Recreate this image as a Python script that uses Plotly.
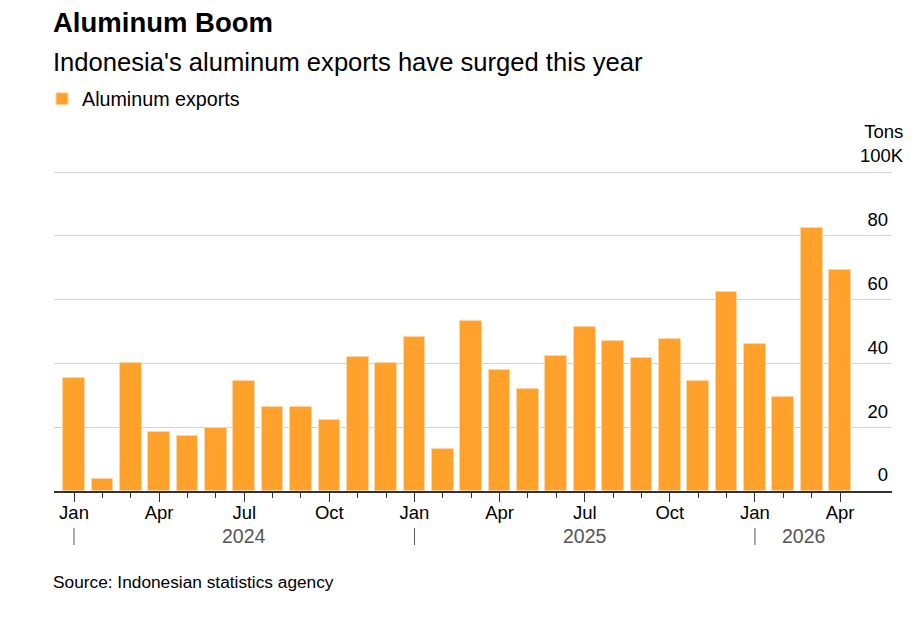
import plotly.graph_objects as go

months = ["Jan 2024", "Feb 2024", "Mar 2024", "Apr 2024", "May 2024", "Jun 2024",
          "Jul 2024", "Aug 2024", "Sep 2024", "Oct 2024", "Nov 2024", "Dec 2024",
          "Jan 2025", "Feb 2025", "Mar 2025", "Apr 2025", "May 2025", "Jun 2025",
          "Jul 2025", "Aug 2025", "Sep 2025", "Oct 2025", "Nov 2025", "Dec 2025",
          "Jan 2026", "Feb 2026", "Mar 2026", "Apr 2026"]
exports_k_tons = [35.3, 3.7, 40.0, 18.5, 17.1, 19.8, 34.4, 26.4, 26.3, 22.3, 41.9, 40.1,
                  48.4, 13.1, 53.4, 37.9, 31.9, 42.5, 51.3, 47.2, 41.7, 47.6, 34.5, 62.3,
                  46.1, 29.4, 82.5, 69.4]
y_ticks = [0, 20, 40, 60, 80, 100]
y_tick_text = ["0", "20", "40", "60", "80", ""]
years = ["2024", "2025", "2026"]
year_label_pos = [6, 18, 25.7]
year_start_idx = [0, 12, 24]

idx = list(range(len(months)))
quarter_idx = [i for i in idx if months[i].split()[0] in ("Jan", "Apr", "Jul", "Oct")]
quarter_text = [months[i].split()[0] for i in quarter_idx]

W, H = 921, 620
ML, MR, MT, MB = 54, 29, 169, 129
PH = H - MT - MB
PW = W - ML - MR


def py(ypx):
    return (H - MB - ypx) / PH


def px(xpx):
    return (xpx - ML) / PW


FONT = "Liberation Sans, Arial, sans-serif"
ORANGE = "#FFA12B"

fig = go.Figure()
fig.add_trace(go.Bar(
    x=idx, y=exports_k_tons, name="Aluminum exports",
    marker=dict(color=ORANGE, line=dict(color="#FFD6A3", width=1)),
    width=0.765, showlegend=True,
))

fig.update_layout(
    width=W, height=H,
    margin=dict(l=ML, r=MR, t=MT, b=MB, pad=0),
    paper_bgcolor="white", plot_bgcolor="white",
    font=dict(family=FONT, size=18, color="#000"),
    showlegend=True,
    legend=dict(x=px(42), y=py(99), xanchor="left", yanchor="middle",
                orientation="h", font=dict(size=19.7, color="#000"),
                bgcolor="rgba(0,0,0,0)", borderwidth=0),
    bargap=0,
)

fig.update_xaxes(
    range=[-0.705, 28.83],
    tickmode="array", tickvals=quarter_idx, ticktext=quarter_text,
    ticks="outside", ticklen=9, tickwidth=1, tickcolor="#333",
    showline=True, linecolor="#333", linewidth=1.5,
    showgrid=False, zeroline=False, ticklabelstandoff=-5,
    tickfont=dict(size=18.5, color="#000"),
    minor=dict(tickmode="array", tickvals=idx, ticks="outside", ticklen=5,
               tickwidth=1, tickcolor="#333", showgrid=False),
)

fig.update_yaxes(
    range=[0, 101], side="right",
    tickmode="array", tickvals=y_ticks, ticktext=y_tick_text,
    ticklabelposition="inside", ticklabelshift=-16, ticklabelstandoff=1,
    showgrid=True, gridcolor="#d4d4d4", gridwidth=1,
    zeroline=False, showline=False, ticks="",
    tickfont=dict(size=18.5, color="#000"),
)

ann = [
    dict(text="<b>Aluminum Boom</b>", x=px(51), y=py(23), xref="paper", yref="paper",
         xanchor="left", yanchor="middle", showarrow=False,
         font=dict(size=27.5, color="#000", family=FONT)),
    dict(text="Indonesia's aluminum exports have surged this year", x=px(51), y=py(62),
         xref="paper", yref="paper", xanchor="left", yanchor="middle", showarrow=False,
         font=dict(size=25.6, color="#000", family=FONT)),
    dict(text="Tons<br>100K", x=px(906), y=py(144), xref="paper", yref="paper",
         xanchor="right", yanchor="middle", align="right", showarrow=False,
         font=dict(size=18.5, color="#000", family=FONT)),
    dict(text="Source: Indonesian statistics agency", x=px(51), y=py(582),
         xref="paper", yref="paper", xanchor="left", yanchor="middle", showarrow=False,
         font=dict(size=17.3, color="#000", family=FONT)),
]
for yr, pos in zip(years, year_label_pos):
    ann.append(dict(text=yr, x=pos, y=py(536), xref="x", yref="paper",
                    xanchor="center", yanchor="middle", showarrow=False,
                    font=dict(size=19.5, color="#555", family=FONT)))
fig.update_layout(annotations=ann)

for s in year_start_idx:
    fig.add_shape(type="line", x0=s, x1=s, xref="x", y0=py(528), y1=py(545),
                  yref="paper", line=dict(color="#555", width=1))

fig.write_html("out.html")
